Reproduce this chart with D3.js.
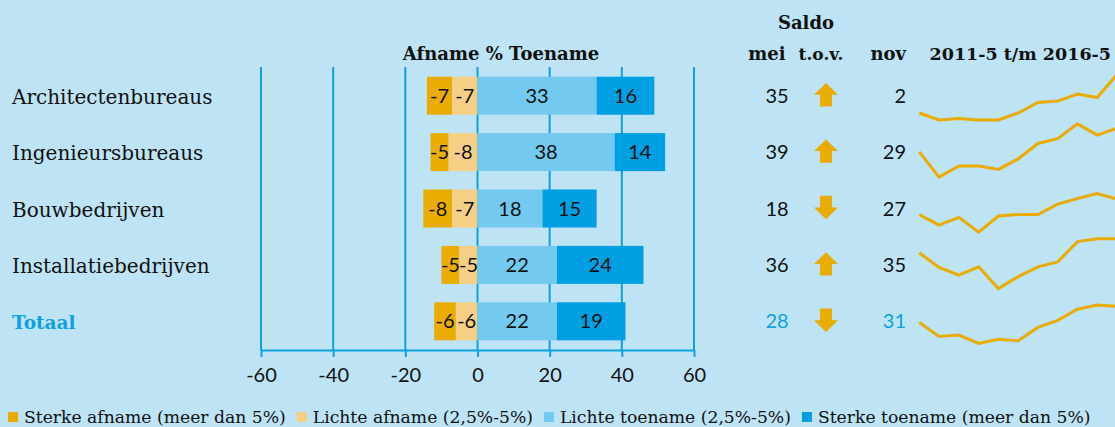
<!DOCTYPE html>
<html>
<head>
<meta charset="utf-8">
<script src="https://cdn.jsdelivr.net/npm/d3@7"></script>
<style>
  body { margin: 0; background: #bde3f5; }
  svg { display: block; }
  .serif { font-family: "DejaVu Serif", serif; }
  .num { font-family: Lato, "Noto Sans", sans-serif; }
</style>
</head>
<body>
<script>
// data
const categories = ["Architectenbureaus", "Ingenieursbureaus", "Bouwbedrijven", "Installatiebedrijven", "Totaal"];
const sterkeAfname = [-7, -5, -8, -5, -6];
const lichteAfname = [-7, -8, -7, -5, -6];
const lichteToename = [33, 38, 18, 22, 22];
const sterkeToename = [16, 14, 15, 24, 19];
const saldoMei = [35, 39, 18, 36, 28];
const trend = ["up", "up", "down", "up", "down"];
const saldoNov = [2, 29, 27, 35, 31];
const axisTicks = [-60, -40, -20, 0, 20, 40, 60];

// saldo per half year, 2011-5 t/m 2016-5
const periods = ["2011-5", "2011-11", "2012-5", "2012-11", "2013-5", "2013-11", "2014-5", "2014-11", "2015-5", "2015-11", "2016-5"];
const sparkArchitecten = [-20, -30, -28, -30, -30, -20, -5, -3, 7, 2, 35];
const sparkIngenieurs = [5, -31, -15, -15, -20, -5, 17, 24, 45, 29, 39];
const sparkBouw = [-4, -19, -8, -29, -6, -4, -4, 11, 19, 26, 18];
const sparkInstallatie = [22, 1, -10, 2, -29, -12, 2, 9, 38, 42, 42];
const sparkTotaal = [3, -17, -15, -27, -21, -23, -4, 6, 22, 28, 26];
const sparkSeries = [sparkArchitecten, sparkIngenieurs, sparkBouw, sparkInstallatie, sparkTotaal];

const legendLabels = ["Sterke afname (meer dan 5%)", "Lichte afname (2,5%-5%)", "Lichte toename (2,5%-5%)", "Sterke toename (meer dan 5%)"];
const colors = ["#e9ac00", "#f6cf86", "#73c9ef", "#009fe1"];
const blue = "#0ea0df";

const width = 1115, height = 427;

const svg = d3.select("body").append("svg")
    .attr("width", width)
    .attr("height", height);

let x = d3.scaleLinear().domain([-60, 60]).range([261, 694]);
let y = d3.scalePoint().domain(categories).range([67.5, 349.5]).padding(0.5);
const barH = 38;

// grid lines
svg.append("g").selectAll("line")
    .data(axisTicks)
    .enter().append("line")
    .attr("x1", d => x(d)).attr("x2", d => x(d))
    .attr("y1", 67).attr("y2", 350)
    .attr("stroke", blue)
    .attr("stroke-width", 2);

// axis
let axis = svg.append("g")
    .attr("transform", "translate(0,350)")
    .call(d3.axisBottom(x).tickValues(axisTicks).tickFormat(d => String(d))
        .tickSize(7).tickSizeOuter(0).tickPadding(11));
axis.select(".domain").attr("stroke", blue).attr("stroke-width", 2);
axis.selectAll(".tick line").attr("stroke", blue).attr("stroke-width", 2);
axis.selectAll(".tick text")
    .attr("class", "num")
    .style("font-size", "20px")
    .attr("fill", "#111");

// stacked bars
const rows = categories.map((c, i) => {
    const vals = [sterkeAfname[i], lichteAfname[i], lichteToename[i], sterkeToename[i]];
    const segs = [
        { v: vals[0], x0: vals[0] + vals[1], x1: vals[1], k: 0 },
        { v: vals[1], x0: vals[1], x1: 0, k: 1 },
        { v: vals[2], x0: 0, x1: vals[2], k: 2 },
        { v: vals[3], x0: vals[2], x1: vals[2] + vals[3], k: 3 }
    ];
    return { cat: c, i: i, segs: segs };
});

let rowG = svg.append("g").selectAll("g")
    .data(rows)
    .enter().append("g")
    .attr("transform", d => `translate(0,${y(d.cat)})`);

rowG.selectAll("rect")
    .data(d => d.segs)
    .enter().append("rect")
    .attr("x", d => x(d.x0))
    .attr("width", d => x(d.x1) - x(d.x0))
    .attr("y", -barH / 2)
    .attr("height", barH)
    .attr("fill", d => colors[d.k]);

rowG.selectAll("text.val")
    .data(d => d.segs)
    .enter().append("text")
    .attr("class", "val num")
    .attr("x", d => (x(d.x0) + x(d.x1)) / 2)
    .attr("y", 7)
    .attr("text-anchor", "middle")
    .style("font-size", "20px")
    .attr("fill", "#111")
    .text(d => d.v);

// category labels
rowG.append("text")
    .attr("class", "serif")
    .attr("x", 12)
    .attr("y", 8)
    .style("font-size", d => d.i === 4 ? "18.5px" : "20px")
    .style("font-weight", d => d.i === 4 ? "bold" : "normal")
    .attr("fill", d => d.i === 4 ? blue : "#111")
    .text(d => d.cat);

// saldo columns
rowG.append("text")
    .attr("class", "num")
    .attr("x", 777).attr("y", 7)
    .attr("text-anchor", "middle")
    .style("font-size", "20px")
    .attr("fill", d => d.i === 4 ? blue : "#111")
    .text(d => saldoMei[d.i]);

rowG.append("text")
    .attr("class", "num")
    .attr("x", 906).attr("y", 7)
    .attr("text-anchor", "end")
    .style("font-size", "20px")
    .attr("fill", d => d.i === 4 ? blue : "#111")
    .text(d => saldoNov[d.i]);

const arrowUp = "M0,-11.7L12,0L6,0L6,11.7L-6,11.7L-6,0L-12,0Z";
rowG.append("path")
    .attr("d", arrowUp)
    .attr("transform", d => `translate(826,-1) scale(1,${trend[d.i] === "up" ? 1 : -1})`)
    .attr("fill", colors[0]);

// sparklines
let xs = d3.scalePoint().domain(periods).range([919.3, 1117]);
let ys = d3.scaleLinear().domain([-40, 40]).range([28, -28]);
let line = d3.line()
    .x((d, j) => xs(periods[j]))
    .y(d => ys(d));

rowG.append("path")
    .attr("transform", "translate(0,3.3)")
    .attr("d", d => line(sparkSeries[d.i]))
    .attr("fill", "none")
    .attr("stroke", colors[0])
    .attr("stroke-width", 3)
    .attr("stroke-linejoin", "miter");

// headers
const hdr = svg.append("g").attr("class", "serif")
    .style("font-size", "18px").style("font-weight", "bold").attr("fill", "#111");
hdr.append("text").attr("x", 501).attr("y", 60).attr("text-anchor", "middle").text("Afname % Toename");
hdr.append("text").attr("x", 806).attr("y", 29).attr("text-anchor", "middle").text("Saldo");
hdr.append("text").attr("x", 767).attr("y", 60).attr("text-anchor", "middle").text("mei");
hdr.append("text").attr("x", 821).attr("y", 60).attr("text-anchor", "middle").style("font-size", "17px").text("t.o.v.");
hdr.append("text").attr("x", 906).attr("y", 60).attr("text-anchor", "end").text("nov");
hdr.append("text").attr("x", 1111).attr("y", 60).attr("text-anchor", "end").style("font-size", "17.5px").text("2011-5 t/m 2016-5");

// legend
let lx = 8;
const legend = svg.append("g");
legendLabels.forEach((lab, k) => {
    legend.append("rect")
        .attr("x", lx).attr("y", 412)
        .attr("width", 10).attr("height", 10)
        .attr("fill", colors[k]);
    let t = legend.append("text")
        .attr("class", "serif")
        .attr("x", lx + 16).attr("y", 423)
        .style("font-size", "17.2px")
        .attr("fill", "#111")
        .text(lab);
    lx += 16 + t.node().getComputedTextLength() + 11;
});
</script>
</body>
</html>
